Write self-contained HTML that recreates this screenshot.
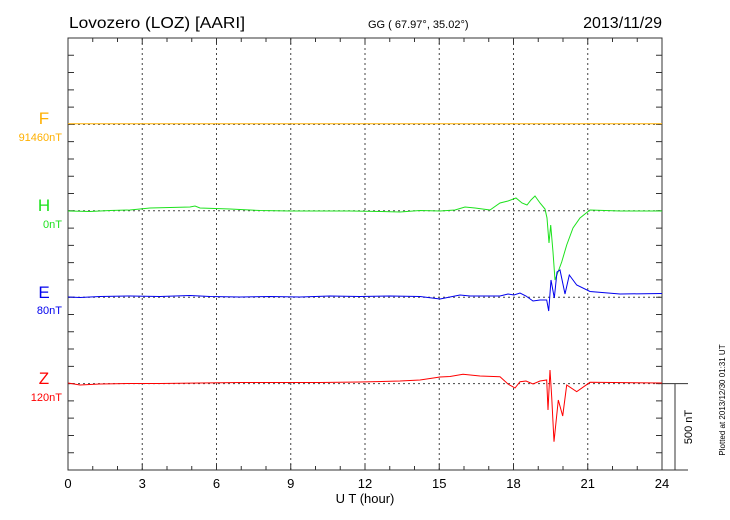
<!DOCTYPE html><html><head><style>body{margin:0;background:#fff}svg{display:block}text{font-family:"Liberation Sans",sans-serif}</style></head><body>
<svg width="730" height="520" xmlns="http://www.w3.org/2000/svg">
<text x="69" y="28" font-size="16" textLength="176" lengthAdjust="spacingAndGlyphs">Lovozero (LOZ)  [AARI]</text>
<text x="368" y="28" font-size="11">GG ( 67.97°,  35.02°)</text>
<text x="662" y="28" font-size="16" text-anchor="end">2013/11/29</text>
<g stroke="#444" stroke-dasharray="2,3" stroke-width="1">
<line x1="142.25" y1="38" x2="142.25" y2="470"/><line x1="216.5" y1="38" x2="216.5" y2="470"/><line x1="290.75" y1="38" x2="290.75" y2="470"/><line x1="365" y1="38" x2="365" y2="470"/><line x1="439.25" y1="38" x2="439.25" y2="470"/><line x1="513.5" y1="38" x2="513.5" y2="470"/><line x1="587.75" y1="38" x2="587.75" y2="470"/>
<line x1="68" y1="124.4" x2="662" y2="124.4"/><line x1="68" y1="210.8" x2="662" y2="210.8"/><line x1="68" y1="297.2" x2="662" y2="297.2"/><line x1="68" y1="383.6" x2="662" y2="383.6"/>
</g>
<path stroke="#333" fill="none" d="M92.75,38v4M92.75,470v-4M117.5,38v4M117.5,470v-4M142.25,38v6M142.25,470v-6M167,38v4M167,470v-4M191.75,38v4M191.75,470v-4M216.5,38v6M216.5,470v-6M241.25,38v4M241.25,470v-4M266,38v4M266,470v-4M290.75,38v6M290.75,470v-6M315.5,38v4M315.5,470v-4M340.25,38v4M340.25,470v-4M365,38v6M365,470v-6M389.75,38v4M389.75,470v-4M414.5,38v4M414.5,470v-4M439.25,38v6M439.25,470v-6M464,38v4M464,470v-4M488.75,38v4M488.75,470v-4M513.5,38v6M513.5,470v-6M538.25,38v4M538.25,470v-4M563,38v4M563,470v-4M587.75,38v6M587.75,470v-6M612.5,38v4M612.5,470v-4M637.25,38v4M637.25,470v-4
M68,55.28h6M662,55.28h-6M68,72.56h6M662,72.56h-6M68,89.84h6M662,89.84h-6M68,107.12h6M662,107.12h-6M68,124.4h6M662,124.4h-6M68,141.68h6M662,141.68h-6M68,158.96h6M662,158.96h-6M68,176.24h6M662,176.24h-6M68,193.52h6M662,193.52h-6M68,210.8h6M662,210.8h-6M68,228.08h6M662,228.08h-6M68,245.36h6M662,245.36h-6M68,262.64h6M662,262.64h-6M68,279.92h6M662,279.92h-6M68,297.2h6M662,297.2h-6M68,314.48h6M662,314.48h-6M68,331.76h6M662,331.76h-6M68,349.04h6M662,349.04h-6M68,366.32h6M662,366.32h-6M68,383.6h6M662,383.6h-6M68,400.88h6M662,400.88h-6M68,418.16h6M662,418.16h-6M68,435.44h6M662,435.44h-6M68,452.72h6M662,452.72h-6"/>
<rect x="68" y="38" width="594" height="432" fill="none" stroke="#333"/>
<line x1="662" y1="383.6" x2="688" y2="383.6" stroke="#333"/>
<line x1="662" y1="470" x2="688" y2="470" stroke="#333"/>
<line x1="675" y1="383.6" x2="675" y2="470" stroke="#333"/>
<text transform="translate(692,427) rotate(-90)" font-size="11" text-anchor="middle">500 nT</text>
<text transform="translate(725,400) rotate(-90)" font-size="8" text-anchor="middle">Plotted at 2013/12/30 01:31  UT</text>
<g fill="none" stroke-width="1">
<polyline stroke="#ffb000" points="68,123.8 662,123.8"/>
<polyline stroke="#1de21d" points="68,211 90,211.5 110,210.5 130,210 150,208 170,207.5 190,207 195,206 200,208 230,209 260,210.5 290,211 320,211 350,211 380,211.5 400,212 420,210.5 440,211 455,210 465,207 475,208 490,210 500,203 508,201 516,198 522,203 527,205 531,200 535,196 540,203 545,209 547,218 549,243 550.7,225 553,252 555,280 558,272 561.7,262 566.7,245 573,228 580,218 590,210 620,211 662,211"/>
<polyline stroke="#0000ee" points="68,297 80,297.5 100,296.5 130,296 160,296.5 190,295.5 210,296.5 240,297 270,296.5 300,297 330,296 360,296.5 390,296 420,296.5 440,299 450,297 460,295 470,296 490,296 500,296 508,294 514,295 520,293 526,296 533,301 540,300 546.7,300 548.7,311 551,280 554.3,298 557,272 560,270 565,294 569.3,275 576.7,285 590,291.5 620,294 662,293.5"/>
<polyline stroke="#ff0000" points="68,383 80,385 100,384 130,383.5 160,383.5 200,383 240,382.5 280,382.5 320,382.5 360,382 400,381 420,380 440,377 450,376.5 463,374.3 480,376 500,376.7 508,384 515,388 520,381.7 526,381 533,384 540,381 546.7,380 548,410 550,370 551.7,397 554,441.7 558.3,400 562.7,416 566.7,385 576.7,391.7 590,382.3 662,383"/>
</g>
<text x="44" y="124" font-size="17" fill="#ffb000" text-anchor="middle">F</text>
<text x="62" y="141" font-size="11" fill="#ffb000" text-anchor="end">91460nT</text>
<text x="44" y="211" font-size="17" fill="#1de21d" text-anchor="middle">H</text>
<text x="62" y="228" font-size="11" fill="#1de21d" text-anchor="end">0nT</text>
<text x="44" y="298" font-size="17" fill="#0000ee" text-anchor="middle">E</text>
<text x="62" y="314" font-size="11" fill="#0000ee" text-anchor="end">80nT</text>
<text x="44" y="384" font-size="17" fill="#ff0000" text-anchor="middle">Z</text>
<text x="62" y="401" font-size="11" fill="#ff0000" text-anchor="end">120nT</text>
<g font-size="13" text-anchor="middle">
<text x="68" y="488">0</text><text x="142.25" y="488">3</text><text x="216.5" y="488">6</text><text x="290.75" y="488">9</text><text x="365" y="488">12</text><text x="439.25" y="488">15</text><text x="513.5" y="488">18</text><text x="587.75" y="488">21</text><text x="662" y="488">24</text>
<text x="365" y="503">U T (hour)</text>
</g>
</svg></body></html>
